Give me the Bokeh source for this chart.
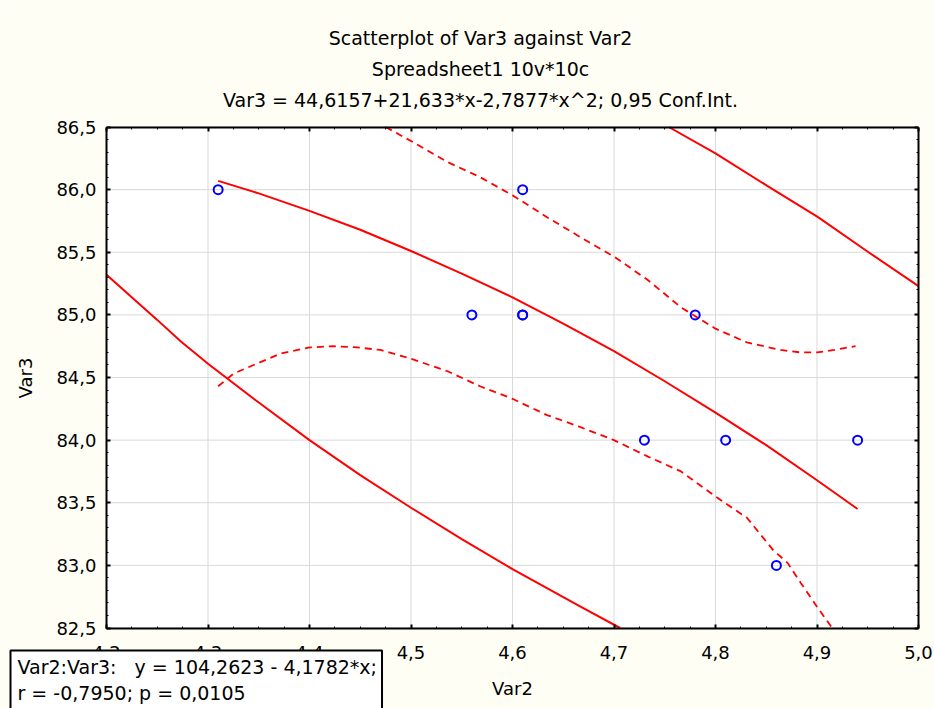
from bokeh.plotting import figure
from bokeh.models import (LinearAxis, FixedTicker, CustomJSTickFormatter, Label,
                          Range1d)
from bokeh.embed import file_html
from bokeh.resources import INLINE

# ---- data ----
var2 = [4.31, 4.56, 4.61, 4.61, 4.61, 4.73, 4.78, 4.81, 4.86, 4.94]
var3 = [86.0, 85.0, 85.0, 85.0, 86.0, 84.0, 85.0, 84.0, 83.0, 84.0]

fit_x = [4.31, 4.35, 4.40, 4.45, 4.50, 4.55, 4.60, 4.65, 4.70, 4.75, 4.80, 4.85,
         4.90, 4.94]
fit_y = [86.07, 85.97, 85.83, 85.68, 85.51, 85.33, 85.14, 84.93, 84.71, 84.47,
         84.22, 83.96, 83.68, 83.45]

ci_up_x = [4.475, 4.504, 4.536, 4.568, 4.601, 4.634, 4.667, 4.701, 4.733, 4.766,
           4.80, 4.831, 4.864, 4.884, 4.900, 4.917, 4.938]
ci_up_y = [86.50, 86.37, 86.22, 86.10, 85.95, 85.78, 85.62, 85.46, 85.28, 85.06,
           84.89, 84.78, 84.72, 84.70, 84.70, 84.72, 84.75]

ci_lo_x = [4.31, 4.325, 4.345, 4.371, 4.40, 4.424, 4.447, 4.47, 4.50, 4.536, 4.568,
           4.60, 4.634, 4.665, 4.70, 4.733, 4.766, 4.80, 4.831, 4.857, 4.871, 4.884,
           4.90, 4.915]
ci_lo_y = [84.43, 84.53, 84.60, 84.69, 84.74, 84.75, 84.74, 84.72, 84.65, 84.55, 84.43,
           84.33, 84.20, 84.11, 84.00, 83.87, 83.75, 83.55, 83.38, 83.12, 83.02, 82.86,
           82.67, 82.50]

outer_up_x = [4.754, 4.80, 4.851, 4.901, 4.949, 5.0]
outer_up_y = [86.50, 86.29, 86.03, 85.78, 85.51, 85.23]

outer_lo_x = [4.2, 4.25, 4.273, 4.30, 4.35, 4.40, 4.45, 4.50, 4.55, 4.60, 4.667, 4.706]
outer_lo_y = [85.32, 84.96, 84.79, 84.61, 84.30, 84.00, 83.72, 83.46, 83.21, 82.97,
              82.67, 82.50]

x_ticks = [4.2, 4.3, 4.4, 4.5, 4.6, 4.7, 4.8, 4.9, 5.0]
y_ticks = [82.5, 83.0, 83.5, 84.0, 84.5, 85.0, 85.5, 86.0, 86.5]

title_lines = ["Scatterplot of Var3 against Var2",
               "Spreadsheet1 10v*10c",
               "Var3 = 44,6157+21,633*x-2,7877*x^2; 0,95 Conf.Int."]
NB = "\u00a0"
box_text = ("Var2:Var3:" + NB * 3 + "y = 104,2623 - 4,1782*x;\n"
            "r = -0,7950; p = 0,0105")

FONT = "DejaVu Sans"
W, H = 934, 708
# pixel box of the plotting area inside the canvas (layout)
PL, PR, PT, PB = 106, 918, 126.5, 627.5

X0, X1 = x_ticks[0], x_ticks[-1]
Y0, Y1 = y_ticks[0], y_ticks[-1]
sx = (PR - PL) / (X1 - X0)
sy = (PB - PT) / (Y1 - Y0)

p = figure(width=W, height=H, output_backend="svg", toolbar_location=None,
           x_range=Range1d(X0 - PL / sx, X1 + (W - PR) / sx),
           y_range=Range1d(Y0 - (H - PB) / sy, Y1 + PT / sy),
           x_axis_type=None, y_axis_type=None,
           min_border=0)
CREAM = "#FEFEF4"
p.background_fill_color = CREAM
p.border_fill_color = CREAM
p.outline_line_color = None

x_minor = [round(X0 + i * 0.025, 3) for i in range(33)]
y_minor = [round(Y0 + i * 0.1, 2) for i in range(41)]
xt = FixedTicker(ticks=x_ticks, minor_ticks=x_minor)
yt = FixedTicker(ticks=y_ticks, minor_ticks=y_minor)
fmt = CustomJSTickFormatter(code="return tick.toFixed(1).replace('.', ',');")
blank = CustomJSTickFormatter(code="return '';")

# white plotting area and grid
p.quad(left=[X0], right=[X1], bottom=[Y0], top=[Y1], fill_color="white",
       line_color=None)
GRID = "#D9D9D9"
p.segment(x0=x_ticks, y0=[Y0] * len(x_ticks), x1=x_ticks, y1=[Y1] * len(x_ticks),
          line_color=GRID, line_width=1)
p.segment(x0=[X0] * len(y_ticks), y0=y_ticks, x1=[X1] * len(y_ticks), y1=y_ticks,
          line_color=GRID, line_width=1)


def style_axis(ax):
    ax.axis_line_color = "black"
    ax.axis_line_width = 2
    ax.major_tick_in = 4
    ax.major_tick_out = 0
    ax.minor_tick_in = 2
    ax.minor_tick_out = 0
    ax.major_tick_line_width = 2
    ax.minor_tick_line_width = 1
    ax.major_tick_line_color = "black"
    ax.minor_tick_line_color = "black"
    ax.major_label_text_font = FONT
    ax.major_label_text_font_size = "18px"
    ax.major_label_text_color = "black"
    ax.axis_label_text_font = FONT
    ax.axis_label_text_font_size = "18px"
    ax.axis_label_text_font_style = "normal"
    ax.axis_label_text_color = "black"


bottom = LinearAxis(ticker=xt, formatter=fmt, axis_label="Var2",
                    fixed_location=Y0, bounds=(X0, X1))
style_axis(bottom)
bottom.major_label_standoff = 18
bottom.axis_label_standoff = 15
p.add_layout(bottom, "below")

left = LinearAxis(ticker=yt, formatter=fmt, axis_label="Var3",
                  fixed_location=X0, bounds=(Y0, Y1))
style_axis(left)
left.major_label_standoff = 10
left.axis_label_standoff = 17
p.add_layout(left, "left")

top = LinearAxis(ticker=xt, formatter=blank, fixed_location=Y1, bounds=(X0, X1))
style_axis(top)
top.major_label_standoff = 0
p.add_layout(top, "above")

right = LinearAxis(ticker=yt, formatter=blank, fixed_location=X1, bounds=(Y0, Y1))
style_axis(right)
right.major_label_standoff = 0
p.add_layout(right, "right")

RED = "#FF0000"
p.line(outer_up_x, outer_up_y, line_color=RED, line_width=2)
p.line(outer_lo_x, outer_lo_y, line_color=RED, line_width=2)
p.line(fit_x, fit_y, line_color=RED, line_width=2)
p.line(ci_up_x, ci_up_y, line_color=RED, line_width=1.8, line_dash="7 5")
p.line(ci_lo_x, ci_lo_y, line_color=RED, line_width=1.8, line_dash="7 5")

p.scatter(var2, var3, marker="circle", size=9, fill_color=None,
          line_color="#0000FF", line_width=2)

# screen positions: x from canvas left, y up from canvas bottom
title_y = [H - 37, H - 68, H - 99]
for txt, ty in zip(title_lines, title_y):
    p.add_layout(Label(x=480, y=ty, x_units="screen", y_units="screen",
                       text=txt, text_align="center", text_baseline="middle",
                       text_font=FONT, text_font_size="19px", text_color="black"))

p.add_layout(Label(x=10, y=H - 650, x_units="screen", y_units="screen",
                   text=box_text, text_align="left", text_baseline="top",
                   text_font=FONT, text_font_size="19px", text_color="black",
                   text_line_height=1.2,
                   background_fill_color="white", border_line_color="black",
                   border_line_width=2, padding=(7, 5, 5, 5)))

open("out.html", "w").write(file_html(p, INLINE))
